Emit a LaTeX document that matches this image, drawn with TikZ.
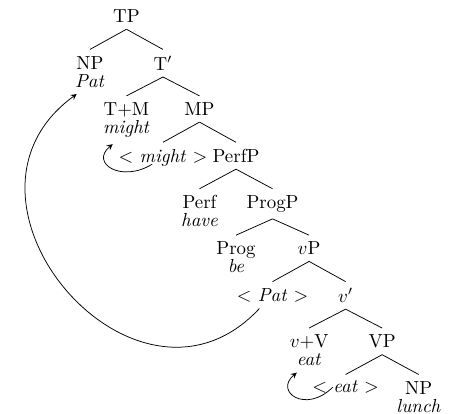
\documentclass[tikz,border=0pt]{standalone}
\usetikzlibrary{arrows}
\begin{document}
\begin{tikzpicture}[%
			>=stealth,
			level distance=24.6pt, sibling distance=38.7pt,
			growth parent anchor=north,
			every node/.style={anchor=north},
			leaf/.style={align=center, font=\linespread{0.8}\selectfont},
			edge from parent path={(\tikzparentnode.south) -- (\tikzchildnode.north)}]
			\useasboundingbox (-67pt,1.6pt) rectangle (173pt,-217.3pt);
			\node(tp){TP}
			child{node[leaf](subj){NP\\\textit{Pat}}}
			child{node(tbar){T$'$}
				child{node[leaf](tm){T+M\\\textit{might}}}
				child{node(mp){MP}
					child{node(mtrace){$<$ \textit{might} $>$}}
					child{node(perfp){PerfP}
						child{node[leaf](perf){Perf\\\textit{have}}}
						child{node(progp){ProgP}
							child{node[leaf](prog){Prog\\\textit{be}}}
							child{node(vp){$v$P}
								child{node(strace){$<$ \textit{Pat} $>$}}
								child{node(vbar){$v'$}
									child{node[leaf](vv){$v$+V\\\textit{eat}}}
									child{node(vpp){VP}
										child{node(vtrace){$<$ \textit{eat} $>$}}
										child{node[leaf](obj){NP\\\textit{lunch}}}}}}}}}};
			\draw[->] ([xshift=-7pt]strace.south) .. controls +(-65.2pt,-70pt) and +(-77.4pt,-56.2pt) .. ([xshift=-7pt]subj.south);
			\draw[->] ([xshift=-5.7pt,yshift=4.5pt]mtrace.south) .. controls +(-16.2pt,-10.1pt) and +(-12.2pt,-10.2pt) .. ([xshift=-7.3pt]tm.south);
			\draw[->] ([xshift=-6.8pt,yshift=7pt]vtrace.south) .. controls +(-14.3pt,-14.3pt) and +(-12.2pt,-10.1pt) .. ([xshift=-6.5pt]vv.south);
	\end{tikzpicture}
\end{document}
